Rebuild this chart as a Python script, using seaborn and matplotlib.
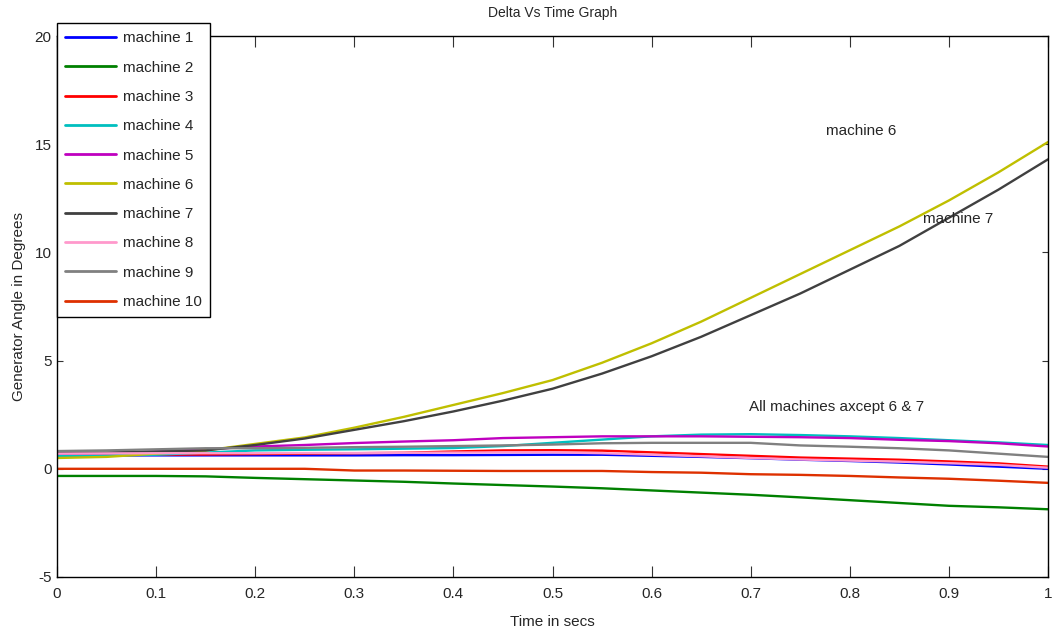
import numpy as np
import pandas as pd
import matplotlib
matplotlib.use("Agg")
import matplotlib.pyplot as plt
import seaborn as sns

sns.set_style("white")
plt.rcParams['font.family'] = ['Liberation Sans', 'DejaVu Sans']

time = [0.0, 0.05, 0.1, 0.15, 0.2, 0.25, 0.3, 0.35, 0.4, 0.45, 0.5,
        0.55, 0.6, 0.65, 0.7, 0.75, 0.8, 0.85, 0.9, 0.95, 1.0]

machine1 = [0.62, 0.62, 0.62, 0.62, 0.62, 0.62, 0.62, 0.63, 0.63, 0.64, 0.65,
            0.65, 0.60, 0.55, 0.49, 0.42, 0.36, 0.29, 0.20, 0.10, 0.00]
machine2 = [-0.33, -0.33, -0.33, -0.35, -0.42, -0.48, -0.54, -0.60, -0.68, -0.75, -0.82,
            -0.90, -1.00, -1.10, -1.20, -1.32, -1.45, -1.58, -1.71, -1.78, -1.87]
machine3 = [0.62, 0.63, 0.65, 0.66, 0.68, 0.70, 0.72, 0.74, 0.80, 0.85, 0.86,
            0.84, 0.76, 0.68, 0.60, 0.52, 0.47, 0.42, 0.34, 0.25, 0.10]
machine4 = [0.60, 0.62, 0.65, 0.75, 0.85, 0.88, 0.90, 0.93, 0.96, 1.05, 1.20,
            1.35, 1.50, 1.58, 1.60, 1.56, 1.50, 1.42, 1.32, 1.22, 1.10]
machine5 = [0.70, 0.72, 0.80, 0.90, 1.03, 1.10, 1.19, 1.26, 1.32, 1.42, 1.46,
            1.50, 1.50, 1.50, 1.48, 1.46, 1.42, 1.34, 1.28, 1.18, 1.03]
machine6 = [0.50, 0.55, 0.70, 0.85, 1.15, 1.45, 1.90, 2.40, 2.95, 3.50, 4.10,
            4.90, 5.80, 6.80, 7.90, 9.00, 10.10, 11.20, 12.40, 13.70, 15.10]
machine7 = [0.75, 0.75, 0.80, 0.85, 1.10, 1.40, 1.80, 2.20, 2.65, 3.15, 3.70,
            4.40, 5.20, 6.10, 7.10, 8.10, 9.20, 10.30, 11.60, 12.90, 14.30]
machine8 = [0.70, 0.71, 0.72, 0.72, 0.72, 0.73, 0.73, 0.74, 0.75, 0.76, 0.76,
            0.72, 0.65, 0.58, 0.50, 0.43, 0.38, 0.33, 0.26, 0.18, 0.05]
machine9 = [0.82, 0.85, 0.90, 0.95, 0.95, 0.97, 1.00, 1.02, 1.05, 1.08, 1.12,
            1.18, 1.20, 1.20, 1.20, 1.08, 1.02, 0.95, 0.85, 0.70, 0.55]
machine10 = [0.00, 0.00, 0.00, 0.00, 0.00, 0.00, -0.08, -0.08, -0.09, -0.10, -0.10,
             -0.10, -0.15, -0.18, -0.25, -0.28, -0.33, -0.40, -0.46, -0.55, -0.65]

labels = ["machine 1", "machine 2", "machine 3", "machine 4", "machine 5",
          "machine 6", "machine 7", "machine 8", "machine 9", "machine 10"]
series = [machine1, machine2, machine3, machine4, machine5,
          machine6, machine7, machine8, machine9, machine10]
colors = ["#0000FF", "#008000", "#FF0000", "#00BFBF", "#BF00BF",
          "#BFBF00", "#404040", "#FF99CC", "#808080", "#DE3000"]

rows = []
for lab, vals in zip(labels, series):
    for t, v in zip(time, vals):
        rows.append({"t": t, "v": v, "machine": lab})
df = pd.DataFrame(rows)

fig = plt.figure(figsize=(10.52, 6.32), dpi=100)
ax = fig.add_axes([57/1052, 1 - 577/632, (1048-57)/1052, (577-36)/632])

sns.lineplot(data=df, x="t", y="v", hue="machine", hue_order=labels,
             palette=dict(zip(labels, colors)), linewidth=1.7, ax=ax,
             legend=False, estimator=None, sort=False)

ax.set_xlim(0, 1)
ax.set_ylim(-5, 20)
ax.set_xticks([0, 0.1, 0.2, 0.3, 0.4, 0.5, 0.6, 0.7, 0.8, 0.9, 1])
ax.set_xticklabels(["0", "0.1", "0.2", "0.3", "0.4", "0.5", "0.6", "0.7", "0.8", "0.9", "1"])
ax.set_yticks([-5, 0, 5, 10, 15, 20])
ax.set_yticklabels(["-5", "0", "5", "10", "15", "20"])
ax.tick_params(axis="x", direction="in", length=8, width=0.8, top=True, bottom=True,
               labelsize=11, pad=7, color="#333333")
ax.tick_params(axis="y", direction="in", length=4, width=0.8, left=True, right=True,
               labelsize=11, pad=4, color="#333333")
for s in ax.spines.values():
    s.set_visible(True)
    s.set_color("black")
    s.set_linewidth(1.0)

ax.set_xlabel("Time in secs", fontsize=11, labelpad=10)
ax.set_ylabel("Generator Angle in Degrees", fontsize=11, labelpad=6)
ax.set_title("Delta Vs Time Graph", fontsize=10, pad=14)

ax.text(0.776, 15.6, "machine 6", fontsize=11, va="center", ha="left")
ax.text(0.874, 11.55, "machine 7", fontsize=11, va="center", ha="left")
ax.text(0.698, 2.87, "All machines axcept 6 & 7", fontsize=11, va="center", ha="left")

handles = ax.get_lines()[:len(labels)]
leg = fig.legend(handles, labels, loc="upper left",
                 bbox_to_anchor=(57/1052, 1 - 23/632), fontsize=11,
                 frameon=True, fancybox=False, edgecolor="black",
                 handlelength=3.3, handletextpad=0.45, labelspacing=1.0,
                 borderpad=0.55, borderaxespad=0)
leg.get_frame().set_linewidth(1.0)
leg.get_frame().set_facecolor("white")
leg.get_frame().set_alpha(1)
for ln in leg.get_lines():
    ln.set_linewidth(2.0)

fig.savefig("out.png", dpi=100)
